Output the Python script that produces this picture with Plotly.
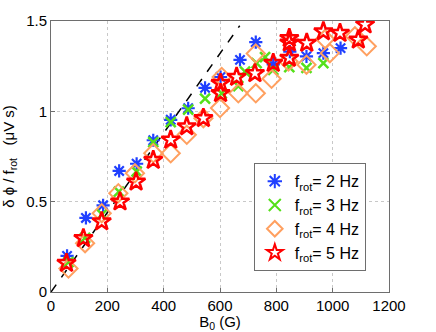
import plotly.graph_objects as go

# B0 (G) and delta phi / f_rot (uV s) for each rotation frequency
b_2hz = [57, 124, 185, 242, 304, 363, 425, 487, 547, 602, 671, 727, 789, 848, 907, 967, 1028]
v_2hz = [0.20, 0.41, 0.48, 0.67, 0.71, 0.84, 0.953, 1.017, 1.13, 1.19, 1.285, 1.383, 1.26, 1.33, 1.304, 1.322, 1.35]

b_3hz = [62, 121, 181, 241, 304, 363, 425, 487, 547, 606, 665, 689, 730, 760, 789, 846, 907, 967]
v_3hz = [0.165, 0.30, 0.43, 0.556, 0.667, 0.83, 0.94, 1.01, 1.07, 1.10, 1.14, 1.22, 1.267, 1.30, 1.23, 1.245, 1.24, 1.267]

b_4hz = [62, 121, 180, 239, 298, 363, 425, 482, 541, 600, 606, 665, 727, 727, 783, 843, 907, 973, 990, 1079, 1121]
v_4hz = [0.13, 0.27, 0.436, 0.547, 0.657, 0.768, 0.768, 0.87, 0.962, 1.018, 1.19, 1.10, 1.10, 1.32, 1.18, 1.276, 1.258, 1.40, 1.322, 1.415, 1.36]

b_5hz = [55, 115, 180, 245, 302, 363, 425, 482, 541, 602, 602, 659, 724, 789, 846, 846, 846, 908, 967, 1026, 1091, 1115]
v_5hz = [0.16, 0.297, 0.39, 0.50, 0.61, 0.73, 0.842, 0.916, 0.962, 1.156, 1.10, 1.19, 1.21, 1.267, 1.405, 1.38, 1.295, 1.378, 1.442, 1.433, 1.396, 1.48]

fit_b = [0, 670]
fit_v = [0, 1.474]

x_ticks = [0, 200, 400, 600, 800, 1000, 1200]
y_ticks = [0, 0.5, 1, 1.5]

fig = go.Figure()

fig.add_trace(go.Scatter(x=fit_b, y=fit_v, mode="lines",
                         line=dict(color="black", width=1.5, dash="dash"),
                         showlegend=False, hoverinfo="skip"))

series = [
    (b_2hz, v_2hz, "f<sub>rot</sub>= 2 Hz", "asterisk-open", "#2040ff", 11, 2.2),
    (b_3hz, v_3hz, "f<sub>rot</sub>= 3 Hz", "x-thin-open", "#55e01a", 10, 2.5),
    (b_4hz, v_4hz, "f<sub>rot</sub>= 4 Hz", "diamond-open", "#ffa060", 14, 2),
    (b_5hz, v_5hz, "f<sub>rot</sub>= 5 Hz", "star-open", "#ff0000", 14, 2.5),
]
for bx, vy, name, sym, col, size, lw in series:
    fig.add_trace(go.Scatter(
        x=bx, y=vy, mode="markers", name=name,
        marker=dict(symbol=sym, size=size, color=col, line=dict(color=col, width=lw)),
    ))

axis_style = dict(
    showgrid=True, gridcolor="#c8c8c8", griddash="dot", gridwidth=1,
    showline=True, linecolor="#6e6e6e", linewidth=1, mirror=True,
    ticks="inside", ticklen=4, tickcolor="#6e6e6e",
    zeroline=False, tickfont=dict(size=15, color="black"),
)

fig.update_xaxes(range=[0, 1200], tickvals=x_ticks, **axis_style,
                 title=dict(text="B<sub>0</sub> (G)", font=dict(size=15), standoff=0),
                 automargin=False)
fig.update_yaxes(range=[0, 1.5], tickvals=y_ticks, ticktext=["0", "0.5", "1", "1.5"], **axis_style,
                 title=dict(text="δ ϕ / f<sub>rot</sub>   (μV s)", font=dict(size=15), standoff=11),
                 automargin=False)

fig.update_layout(
    width=436, height=332,
    margin=dict(l=51, r=47, t=21, b=40),
    paper_bgcolor="white", plot_bgcolor="white",
    font=dict(family="Liberation Sans, Arial, sans-serif", color="black"),
    legend=dict(x=0.6, y=0.475, xanchor="left", yanchor="top",
                bordercolor="#6e6e6e", borderwidth=1, bgcolor="white",
                font=dict(size=16), itemwidth=30, itemsizing="constant",
                tracegroupgap=0),
)

# page body has a default 8px margin, drop it so the figure sits at 0,0
fig.write_html("out.html", config={"displayModeBar": False},
               post_script="document.body.style.margin='0';")
